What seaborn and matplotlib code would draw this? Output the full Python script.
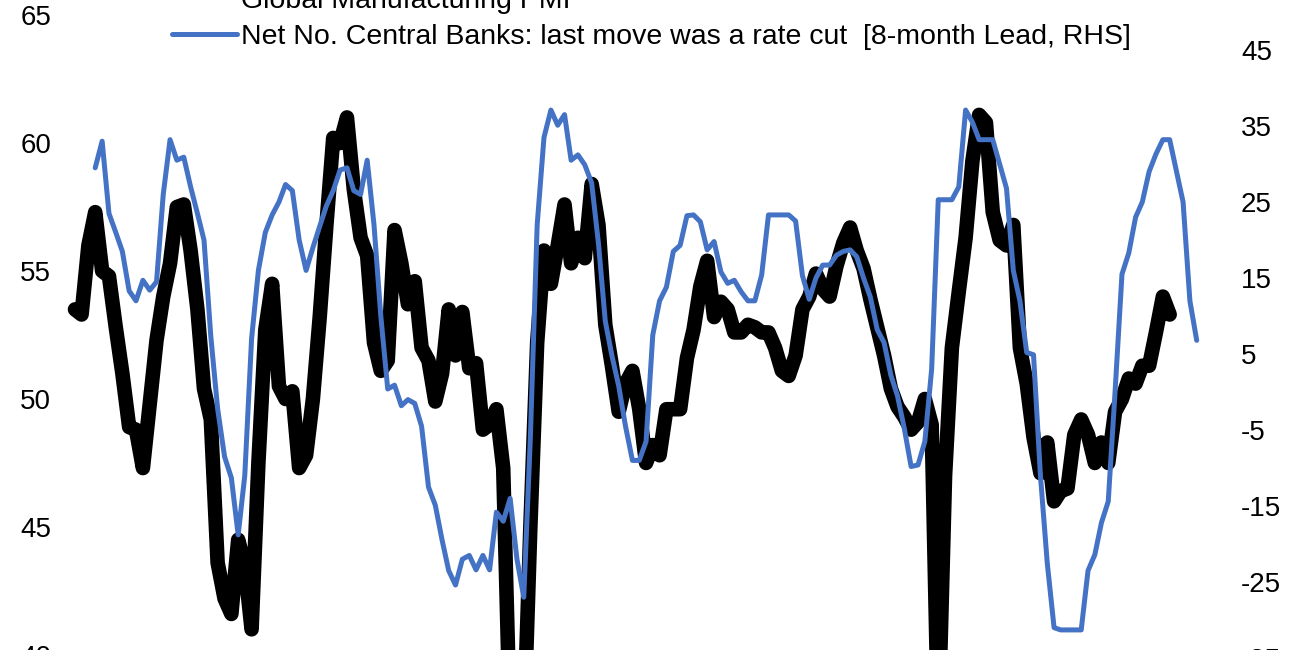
import pandas as pd
import matplotlib
matplotlib.use("Agg")
import matplotlib.pyplot as plt
from matplotlib.lines import Line2D
import seaborn as sns

# ---------------- DATA ----------------
# values every two months
pmi_start = "1998-01-01"      # Global Manufacturing PMI
cb_start = "1998-07-01"       # central banks series, already shifted 8 months forward

pmi = [
    53.5, 53.3, 56.0, 57.3, 55.0, 54.8, 52.8, 51.0, 48.9, 48.8,
    47.3, 49.8, 52.3, 54.0, 55.3, 57.5, 57.6, 55.8, 53.5, 50.4,
    49.2, 43.6, 42.2, 41.6, 44.5, 43.5, 41.0, 47.5, 52.7, 54.5,
    50.5, 50.0, 50.3, 47.3, 47.8, 50.0, 53.2, 56.8, 60.2, 60.0,
    61.0, 58.2, 56.3, 55.6, 52.2, 51.1, 51.5, 56.6, 55.3, 53.7,
    54.6, 52.0, 51.5, 49.9, 51.0, 53.5, 51.7, 53.4, 51.2, 51.4,
    48.8, 49.0, 49.6, 47.3, 37.0, 35.0, 37.0, 45.0, 52.2, 55.8,
    54.5, 56.0, 57.6, 55.3, 56.3, 55.5, 58.4, 56.8, 52.9, 51.3,
    49.5, 50.6, 51.1, 49.6, 47.5, 48.2, 47.8, 49.6, 49.6, 49.6,
    51.6, 52.7, 54.4, 55.4, 53.2, 53.8, 53.5, 52.6, 52.6, 52.9,
    52.8, 52.6, 52.6, 52.0, 51.1, 50.9, 51.7, 53.5, 54.0, 54.9,
    54.3, 54.0, 55.2, 56.1, 56.7, 55.8, 55.1, 53.9, 52.8, 51.7,
    50.4, 49.7, 49.3, 48.8, 49.1, 50.0, 49.0, 37.0, 47.0, 52.0,
    54.2, 56.3, 59.3, 61.1, 60.8, 57.3, 56.2, 56.0, 56.8, 52.0,
    50.6, 48.5, 47.1, 48.3, 46.0, 46.4, 46.5, 48.6, 49.2, 48.6,
    47.5, 48.3, 47.5, 49.5, 50.0, 50.8, 50.6, 51.3, 51.3, 52.6,
    54.0, 53.3,
]

net_cuts = [
    29.5, 33.0, 23.5, 21.0, 18.5, 13.3, 12.0, 14.7, 13.4, 14.5,
    26.0, 33.2, 30.5, 30.9, 27.0, 23.5, 20.0, 7.3, -2.2, -8.5,
    -11.3, -18.8, -11.0, 7.0, 16.0, 21.0, 23.3, 25.0, 27.3, 26.5,
    20.0, 16.0, 19.0, 21.8, 24.5, 26.5, 29.2, 29.5, 26.5, 26.0,
    30.5, 22.0, 10.0, 0.4, 0.9, -1.8, -1.0, -1.5, -4.5, -12.5,
    -14.9, -19.5, -23.5, -25.4, -22.0, -21.5, -23.4, -21.5, -23.4, -15.8,
    -17.0, -14.0, -22.0, -27.0, -6.0, 22.0, 33.5, 37.1, 35.1, 36.5,
    30.5, 31.2, 29.9, 27.5, 19.5, 9.3, 4.8, 0.8, -4.5, -9.0,
    -9.0, -6.5, 7.5, 12.0, 13.8, 18.5, 19.3, 23.2, 23.3, 22.4,
    18.7, 19.8, 15.8, 14.3, 14.7, 13.2, 12.0, 12.0, 15.4, 23.3,
    23.3, 23.3, 23.3, 22.5, 15.3, 12.2, 15.0, 16.7, 16.7, 18.0,
    18.5, 18.7, 17.8, 15.0, 12.5, 8.2, 6.5, 2.2, -0.5, -4.8,
    -9.8, -9.6, -6.5, 3.0, 25.3, 25.3, 25.3, 27.0, 37.1, 35.5,
    33.2, 33.2, 33.2, 30.0, 26.8, 16.0, 12.0, 5.2, 4.9, -11.0,
    -22.5, -31.0, -31.3, -31.3, -31.3, -31.3, -23.5, -21.4, -17.2, -14.4,
    0.0, 15.5, 18.3, 23.0, 25.0, 29.0, 31.3, 33.2, 33.2, 29.0,
    25.0, 12.0, 6.8,
]

left_ticks = [40, 45, 50, 55, 60, 65]
right_ticks = [-35, -25, -15, -5, 5, 15, 25, 35, 45]

pmi_label = "Global Manufacturing PMI"
cb_label = "Net No. Central Banks: last move was a rate cut  [8-month Lead, RHS]"

pmi_df = pd.DataFrame({
    "date": pd.date_range(pmi_start, periods=len(pmi), freq="2MS"),
    "value": pmi,
})
cb_df = pd.DataFrame({
    "date": pd.date_range(cb_start, periods=len(net_cuts), freq="2MS"),
    "value": net_cuts,
})

# ---------------- STYLE ----------------
sns.set_style("white")
plt.rcParams["font.family"] = ["Liberation Sans", "DejaVu Sans"]
plt.rcParams["axes.unicode_minus"] = False
plt.rcParams["text.color"] = "black"
plt.rcParams["ytick.color"] = "black"
plt.rcParams["ytick.labelcolor"] = "black"

BLUE = "#4472C4"
W, H = 1300, 650
LW_PMI, LW_CB = 10.5, 3.6

fig = plt.figure(figsize=(13, 6.5), dpi=100)
# the picture is a crop, so the axes runs a bit past the top and bottom edge
ax = fig.add_axes([58 / W, -30 / H, (1234 - 58) / W, 700 / H])
ax2 = ax.twinx()

sns.lineplot(data=pmi_df, x="date", y="value", ax=ax, color="black",
             linewidth=LW_PMI, solid_joinstyle="round", solid_capstyle="round")
sns.lineplot(data=cb_df, x="date", y="value", ax=ax2, color=BLUE,
             linewidth=LW_CB, solid_joinstyle="round", solid_capstyle="round")

month = pd.Timedelta(days=30.44)
t0 = pmi_df["date"].iloc[0]
ax.set_xlim(t0 - 5.0 * month, t0 + 340.9 * month)

ax.set_ylim(39.02, 66.37)
ax2.set_ylim(-37.89, 54.21)
ax.set_yticks(left_ticks)
ax2.set_yticks(right_ticks)

for a in (ax, ax2):
    a.set_xlabel("")
    a.set_ylabel("")
    for s in a.spines.values():
        s.set_visible(False)
    a.tick_params(axis="y", length=0, pad=5, labelsize=20, labelcolor="black")
    a.tick_params(axis="x", length=0, labelbottom=False)
ax.xaxis.set_visible(False)

handles = [
    Line2D([], [], color="black", linewidth=LW_PMI, solid_capstyle="butt"),
    Line2D([], [], color=BLUE, linewidth=LW_CB, solid_capstyle="round"),
]
leg = ax2.legend(handles, [pmi_label, cb_label], loc="upper left",
                 bbox_to_anchor=(172 / W, 1 + 12 / H), bbox_transform=fig.transFigure,
                 frameon=False, borderpad=0, borderaxespad=0, fontsize=20.5,
                 handlelength=2.3, handletextpad=0.12, labelspacing=0.35)
for t in leg.get_texts():
    t.set_color("black")

fig.savefig("out.png", dpi=100)
